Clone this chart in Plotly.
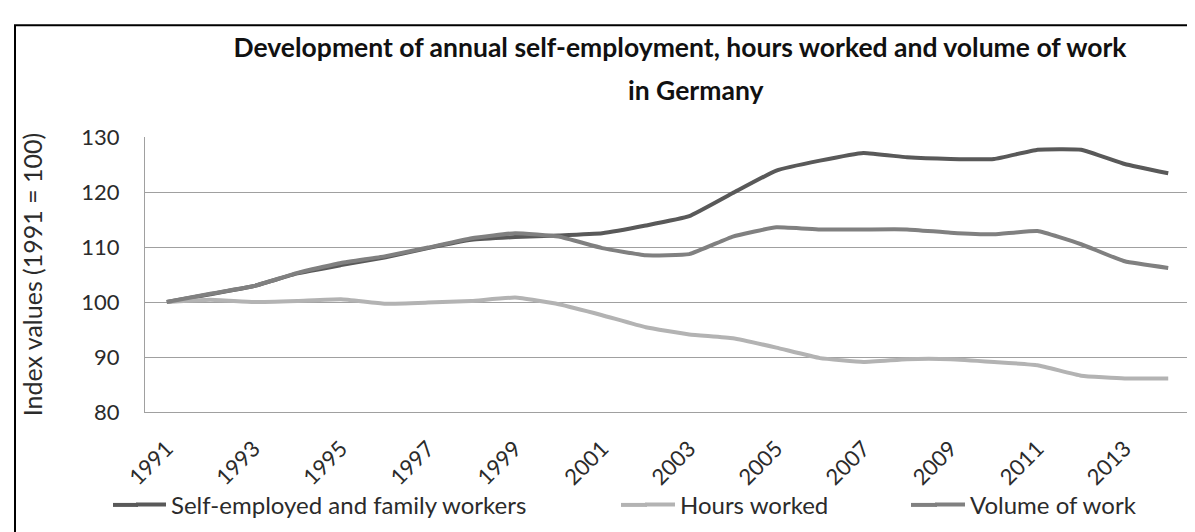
import plotly.graph_objects as go

years = [1991, 1992, 1993, 1994, 1995, 1996, 1997, 1998, 1999, 2000, 2001, 2002,
         2003, 2004, 2005, 2006, 2007, 2008, 2009, 2010, 2011, 2012, 2013, 2014]

self_employed = [100.0, 101.4, 102.9, 105.2, 106.7, 108.1, 109.8, 111.3, 111.8, 112.1, 112.5, 113.9,
                 115.6, 119.8, 123.9, 125.7, 127.1, 126.3, 126.0, 126.0, 127.7, 127.7, 125.1, 123.4]
hours_worked = [100.0, 100.4, 100.0, 100.2, 100.5, 99.7, 99.9, 100.2, 100.8, 99.6, 97.6, 95.4,
                94.1, 93.4, 91.7, 89.8, 89.1, 89.6, 89.6, 89.1, 88.5, 86.6, 86.1, 86.1]
volume_of_work = [100.0, 101.5, 102.9, 105.3, 107.1, 108.3, 109.9, 111.6, 112.5, 111.9, 109.8, 108.5,
                  108.7, 111.9, 113.6, 113.2, 113.2, 113.2, 112.6, 112.3, 112.9, 110.5, 107.4, 106.2]

series_names = ["Self-employed and family workers", "Hours worked", "Volume of work"]
series_colors = ["#595959", "#b3b3b3", "#808080"]

x_tick_years = [1991, 1993, 1995, 1997, 1999, 2001, 2003, 2005, 2007, 2009, 2011, 2013]
y_ticks = [80, 90, 100, 110, 120, 130]

title_line1 = "Development of annual self-employment, hours worked and volume of work"
title_line2 = "in Germany"
y_title = "Index values (1991 = 100)"

FONT = "Lato, Roboto, Noto Sans, sans-serif"
TXT = "#2b2b2b"
LW = 4

W, H = 1195, 532
L, R, T, B = 137, 13, 129, 110
pw, ph = W - L - R, H - T - B


def px_x(p):
    return (p - L) / pw


def px_y(p):
    return (H - B - p) / ph


fig = go.Figure()
legend_ids = ["legend", "legend2", "legend3"]
for vals, name, col, lg in zip([self_employed, hours_worked, volume_of_work],
                               series_names, series_colors, legend_ids):
    fig.add_trace(go.Scatter(
        x=years, y=vals, mode="lines", name=name, legend=lg,
        line=dict(color=col, width=LW, shape="spline", smoothing=0.35),
    ))

legend_common = dict(orientation="h", yanchor="middle", xanchor="left",
                     font=dict(family=FONT, size=24, color=TXT),
                     bgcolor="rgba(0,0,0,0)", borderwidth=0)

legend_line_ends = [158, 667, 957]
legend_line_starts = [105, 613, 903]
LEG_Y = 521

fig.update_layout(
    width=W, height=H,
    margin=dict(l=L, r=R, t=T, b=B),
    paper_bgcolor="white", plot_bgcolor="white",
    title=dict(
        text="<b>" + title_line1 + "</b>",
        x=672 / W, xanchor="center", xref="container",
        y=1 - 40 / H, yanchor="middle", yref="container",
        font=dict(family=FONT, size=26.5, color="#111111"),
    ),
    xaxis=dict(
        range=[1990.5, 2014.5], tickmode="array", tickvals=x_tick_years,
        ticktext=[str(v) for v in x_tick_years], tickangle=-45,
        showgrid=False, zeroline=False, showline=True, linecolor="#a0a0a0", linewidth=1.3,
        ticks="", ticklabelstandoff=14, tickfont=dict(family=FONT, size=22, color=TXT),
    ),
    yaxis=dict(
        range=[80, 130], tickmode="array", tickvals=y_ticks,
        showgrid=True, gridcolor="#a0a0a0", gridwidth=1.3, zeroline=False,
        showline=True, linecolor="#a0a0a0", linewidth=1.3, ticks="",
        ticklabelstandoff=20,
        tickfont=dict(family=FONT, size=22, color=TXT),
        title=dict(text=y_title, font=dict(family=FONT, size=25, color=TXT), standoff=31),
    ),
    legend=dict(x=px_x(legend_line_ends[0] - 35), y=px_y(LEG_Y), **legend_common),
    legend2=dict(x=px_x(legend_line_ends[1] - 35), y=px_y(LEG_Y), **legend_common),
    legend3=dict(x=px_x(legend_line_ends[2] - 35), y=px_y(LEG_Y), **legend_common),
    showlegend=True,
)

fig.add_annotation(
    text="<b>" + title_line2 + "</b>", xref="paper", yref="paper",
    x=px_x(687), y=px_y(79), xanchor="center", yanchor="middle", showarrow=False,
    font=dict(family=FONT, size=26.5, color="#111111"),
)

for s, e, col in zip(legend_line_starts, legend_line_ends, series_colors):
    fig.add_shape(type="line", xref="paper", yref="paper",
                  x0=px_x(s), x1=px_x(e - 28), y0=px_y(LEG_Y), y1=px_y(LEG_Y),
                  line=dict(color=col, width=LW))

fig.add_shape(type="rect", xref="paper", yref="paper",
              x0=px_x(7), x1=px_x(1193), y0=px_y(560), y1=px_y(10),
              line=dict(color="black", width=2), fillcolor="rgba(0,0,0,0)", layer="above")

fig.write_html("out.html")
